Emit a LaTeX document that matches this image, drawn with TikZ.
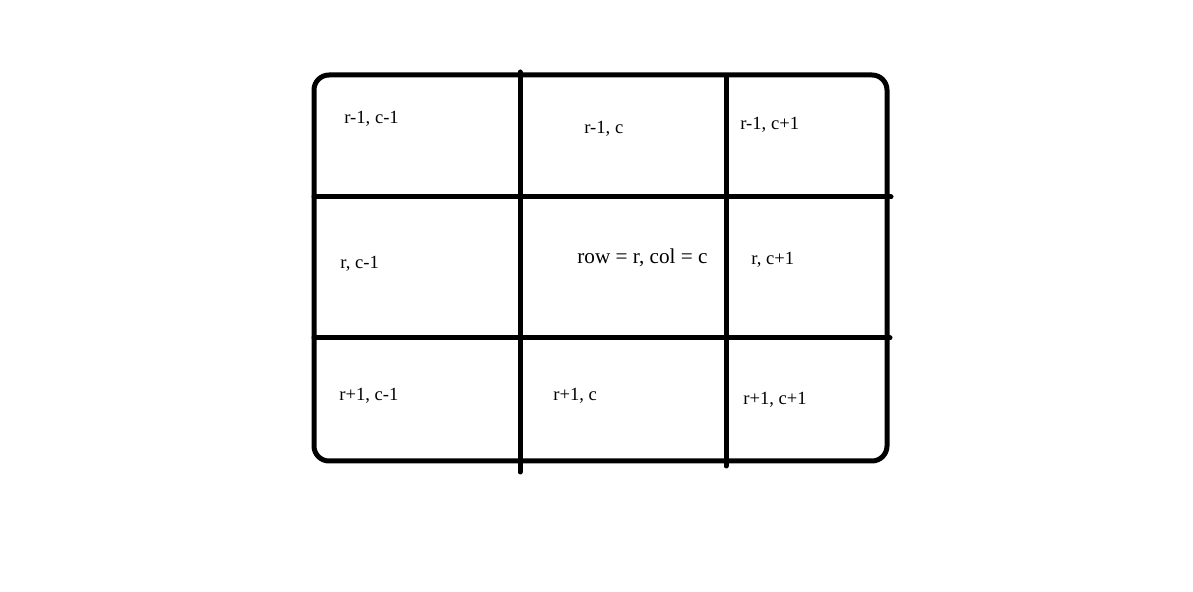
\documentclass[tikz,border=0pt]{standalone}
\usepackage{fontspec}
\setmainfont{Liberation Serif}
\begin{document}
\begin{tikzpicture}[x=0.5pt,y=-0.5pt,
    gridline/.style={line width=2.5pt, line cap=round},
    cell/.style={anchor=west, inner sep=0pt, font=\fontsize{9.3}{10}\selectfont}]
    \useasboundingbox (0,0) rectangle (1193,592);
    % outer frame and grid lines
    \draw[gridline, rounded corners=7.5pt] (314,75) rectangle (887,461);
    \draw[gridline] (520,72) -- (520,472);
    \draw[gridline] (726,76) -- (726,466);
    \draw[gridline] (314,197) -- (891,197);
    \draw[gridline] (314,338) -- (890,338);
    % cell labels
    \node[cell] (nw) at (344,119) {r-1, c-1};
    \node[cell] (n)  at (584,129) {r-1, c};
    \node[cell] (ne) at (740,125) {r-1, c+1};
    \node[cell] (w)  at (340,264) {r, c-1};
    \node[cell, font=\fontsize{10.6}{12}\selectfont] (mid) at (577,258) {row = r, col = c};
    \node[cell] (e)  at (751,260) {r, c+1};
    \node[cell] (sw) at (339,396) {r+1, c-1};
    \node[cell] (s)  at (553,396) {r+1, c};
    \node[cell] (se) at (743,400) {r+1, c+1};
\end{tikzpicture}
\end{document}
